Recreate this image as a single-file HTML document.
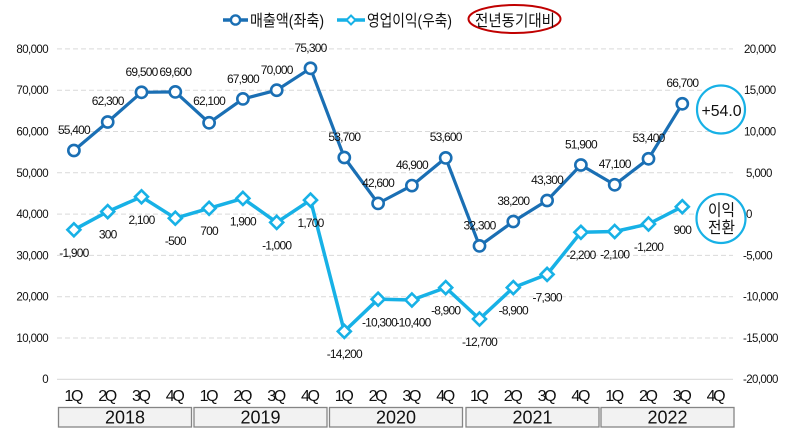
<!DOCTYPE html>
<html><head><meta charset="utf-8"><style>
html,body{margin:0;padding:0;background:#fff;}
svg{display:block;}
text{font-family:"Liberation Sans","Noto Sans CJK KR",sans-serif;fill:#111;}
.ax{font-size:11.5px;letter-spacing:-0.6px;fill:#222;}
.lb{font-size:12px;letter-spacing:-0.8px;text-anchor:middle;}
.q{font-size:16px;text-anchor:middle;}
.yr{font-size:18px;text-anchor:middle;}
</style></head><body>
<svg width="788" height="440" viewBox="0 0 788 440" xmlns="http://www.w3.org/2000/svg">
<rect width="788" height="440" fill="#fff"/>
<!-- gridlines -->
<g stroke="#d9d9d9" stroke-width="1" stroke-dasharray="5,3">
<line x1="57" x2="733" y1="48.9" y2="48.9"/>
<line x1="57" x2="733" y1="90.2" y2="90.2"/>
<line x1="57" x2="733" y1="131.5" y2="131.5"/>
<line x1="57" x2="733" y1="172.8" y2="172.8"/>
<line x1="57" x2="733" y1="214.1" y2="214.1"/>
<line x1="57" x2="733" y1="255.4" y2="255.4"/>
<line x1="57" x2="733" y1="296.7" y2="296.7"/>
<line x1="57" x2="733" y1="338.0" y2="338.0"/>
</g>
<line x1="57" x2="733" y1="379.3" y2="379.3" stroke="#d9d9d9" stroke-width="1.2"/>
<!-- left axis labels -->
<g class="ax" text-anchor="end">
<text x="48" y="53">80,000</text>
<text x="48" y="94">70,000</text>
<text x="48" y="135.5">60,000</text>
<text x="48" y="177">50,000</text>
<text x="48" y="218">40,000</text>
<text x="48" y="259.5">30,000</text>
<text x="48" y="300.5">20,000</text>
<text x="48" y="342">10,000</text>
<text x="48" y="383">0</text>
</g>
<!-- right axis labels -->
<g class="ax">
<text x="744" y="53">20,000</text>
<text x="744" y="94">15,000</text>
<text x="744" y="135.5">10,000</text>
<text x="746" y="177">5,000</text>
<text x="746" y="218">0</text>
<text x="743" y="259.5">-5,000</text>
<text x="743" y="300.5">-10,000</text>
<text x="743" y="342">-15,000</text>
<text x="743" y="383">-20,000</text>
</g>
<!-- profit series -->
<polyline fill="none" stroke="#17b1e6" stroke-width="3.5" stroke-linejoin="round" points="73.9,229.8 107.7,211.6 141.5,196.8 175.3,218.2 209.1,208.3 242.9,198.4 276.7,222.4 310.5,200.1 344.3,331.4 378.1,299.2 411.9,300.0 445.7,287.6 479.5,319.0 513.3,287.6 547.1,274.4 580.9,232.3 614.7,231.5 648.5,224.0 682.3,206.7"/>
<g fill="#fff" stroke="#17b1e6" stroke-width="2.6">
<path d="M73.9,223.3 L80.4,229.8 L73.9,236.3 L67.4,229.8 Z"/>
<path d="M107.7,205.1 L114.2,211.6 L107.7,218.1 L101.2,211.6 Z"/>
<path d="M141.5,190.3 L148,196.8 L141.5,203.3 L135,196.8 Z"/>
<path d="M175.3,211.7 L181.8,218.2 L175.3,224.7 L168.8,218.2 Z"/>
<path d="M209.1,201.8 L215.6,208.3 L209.1,214.8 L202.6,208.3 Z"/>
<path d="M242.9,191.9 L249.4,198.4 L242.9,204.9 L236.4,198.4 Z"/>
<path d="M276.7,215.9 L283.2,222.4 L276.7,228.9 L270.2,222.4 Z"/>
<path d="M310.5,193.6 L317,200.1 L310.5,206.6 L304,200.1 Z"/>
<path d="M344.3,324.9 L350.8,331.4 L344.3,337.9 L337.8,331.4 Z"/>
<path d="M378.1,292.7 L384.6,299.2 L378.1,305.7 L371.6,299.2 Z"/>
<path d="M411.9,293.5 L418.4,300 L411.9,306.5 L405.4,300 Z"/>
<path d="M445.7,281.1 L452.2,287.6 L445.7,294.1 L439.2,287.6 Z"/>
<path d="M479.5,312.5 L486,319 L479.5,325.5 L473,319 Z"/>
<path d="M513.3,281.1 L519.8,287.6 L513.3,294.1 L506.8,287.6 Z"/>
<path d="M547.1,267.9 L553.6,274.4 L547.1,280.9 L540.6,274.4 Z"/>
<path d="M580.9,225.8 L587.4,232.3 L580.9,238.8 L574.4,232.3 Z"/>
<path d="M614.7,225 L621.2,231.5 L614.7,238 L608.2,231.5 Z"/>
<path d="M648.5,217.5 L655,224 L648.5,230.5 L642,224 Z"/>
<path d="M682.3,200.2 L688.8,206.7 L682.3,213.2 L675.8,206.7 Z"/>
</g>
<!-- sales series -->
<polyline fill="none" stroke="#1a6fb4" stroke-width="3.2" stroke-linejoin="round" points="73.9,150.5 107.7,122.0 141.5,92.3 175.3,91.9 209.1,122.8 242.9,98.9 276.7,90.2 310.5,68.3 344.3,157.5 378.1,203.4 411.9,185.6 445.7,157.9 479.5,245.9 513.3,221.5 547.1,200.5 580.9,165.0 614.7,184.8 648.5,158.8 682.3,103.8"/>
<g fill="#fff" stroke="#1a6fb4" stroke-width="2.6">
<circle cx="73.9" cy="150.5" r="5.6"/>
<circle cx="107.7" cy="122.0" r="5.6"/>
<circle cx="141.5" cy="92.3" r="5.6"/>
<circle cx="175.3" cy="91.9" r="5.6"/>
<circle cx="209.1" cy="122.8" r="5.6"/>
<circle cx="242.9" cy="98.9" r="5.6"/>
<circle cx="276.7" cy="90.2" r="5.6"/>
<circle cx="310.5" cy="68.3" r="5.6"/>
<circle cx="344.3" cy="157.5" r="5.6"/>
<circle cx="378.1" cy="203.4" r="5.6"/>
<circle cx="411.9" cy="185.6" r="5.6"/>
<circle cx="445.7" cy="157.9" r="5.6"/>
<circle cx="479.5" cy="245.9" r="5.6"/>
<circle cx="513.3" cy="221.5" r="5.6"/>
<circle cx="547.1" cy="200.5" r="5.6"/>
<circle cx="580.9" cy="165.0" r="5.6"/>
<circle cx="614.7" cy="184.8" r="5.6"/>
<circle cx="648.5" cy="158.8" r="5.6"/>
<circle cx="682.3" cy="103.8" r="5.6"/>
</g>
<!-- sales labels -->
<g class="lb">
<text x="73.9" y="134">55,400</text>
<text x="107.7" y="105">62,300</text>
<text x="141.5" y="76">69,500</text>
<text x="175.3" y="76">69,600</text>
<text x="209.1" y="105">62,100</text>
<text x="242.9" y="83">67,900</text>
<text x="276.7" y="74">70,000</text>
<text x="310.5" y="52">75,300</text>
<text x="344.3" y="141">53,700</text>
<text x="378.1" y="187">42,600</text>
<text x="411.9" y="169">46,900</text>
<text x="445.7" y="141">53,600</text>
<text x="479.5" y="229.5">32,300</text>
<text x="513.3" y="205">38,200</text>
<text x="547.1" y="184">43,300</text>
<text x="580.9" y="148.5">51,900</text>
<text x="614.7" y="168">47,100</text>
<text x="648.5" y="142">53,400</text>
<text x="682.3" y="87">66,700</text>
</g>
<!-- profit labels -->
<g class="lb">
<text x="73.9" y="257">-1,900</text>
<text x="107.7" y="238.5">300</text>
<text x="141.5" y="224">2,100</text>
<text x="175.3" y="245">-500</text>
<text x="209.1" y="235">700</text>
<text x="242.9" y="225.5">1,900</text>
<text x="276.7" y="249.5">-1,000</text>
<text x="310.5" y="227">1,700</text>
<text x="344.3" y="358">-14,200</text>
<text x="379.5" y="326.5">-10,300</text>
<text x="413" y="326.5">-10,400</text>
<text x="445.7" y="314.5">-8,900</text>
<text x="479.5" y="346">-12,700</text>
<text x="513.3" y="314.5">-8,900</text>
<text x="547.1" y="301.5">-7,300</text>
<text x="580.9" y="259">-2,200</text>
<text x="614.7" y="258.5">-2,100</text>
<text x="648.5" y="251">-1,200</text>
<text x="682.3" y="234">900</text>
</g>
<!-- quarter labels -->
<g class="q">
<text x="73.9" y="401" textLength="19">1Q</text>
<text x="107.7" y="401" textLength="19">2Q</text>
<text x="141.5" y="401" textLength="19">3Q</text>
<text x="175.3" y="401" textLength="19">4Q</text>
<text x="209.1" y="401" textLength="19">1Q</text>
<text x="242.9" y="401" textLength="19">2Q</text>
<text x="276.7" y="401" textLength="19">3Q</text>
<text x="310.5" y="401" textLength="19">4Q</text>
<text x="344.3" y="401" textLength="19">1Q</text>
<text x="378.1" y="401" textLength="19">2Q</text>
<text x="411.9" y="401" textLength="19">3Q</text>
<text x="445.7" y="401" textLength="19">4Q</text>
<text x="479.5" y="401" textLength="19">1Q</text>
<text x="513.3" y="401" textLength="19">2Q</text>
<text x="547.1" y="401" textLength="19">3Q</text>
<text x="580.9" y="401" textLength="19">4Q</text>
<text x="614.7" y="401" textLength="19">1Q</text>
<text x="648.5" y="401" textLength="19">2Q</text>
<text x="682.3" y="401" textLength="19">3Q</text>
<text x="716.1" y="401" textLength="19">4Q</text>
</g>
<!-- year boxes -->
<g fill="#f2f2f2" stroke="#858585" stroke-width="1.3">
<rect x="58.5" y="407.5" width="133" height="19.5"/>
<rect x="194" y="407.5" width="133" height="19.5"/>
<rect x="329.5" y="407.5" width="133" height="19.5"/>
<rect x="466" y="407.5" width="133" height="19.5"/>
<rect x="601" y="407.5" width="133" height="19.5"/>
</g>
<g class="yr">
<text x="125" y="423.5">2018</text>
<text x="260.5" y="423.5">2019</text>
<text x="396" y="423.5">2020</text>
<text x="532.5" y="423.5">2021</text>
<text x="667.5" y="423.5">2022</text>
</g>
<!-- legend -->
<line x1="223" x2="248" y1="20" y2="20" stroke="#1a6fb4" stroke-width="3.5"/>
<circle cx="235.5" cy="20" r="4.6" fill="#fff" stroke="#1a6fb4" stroke-width="2.4"/>
<text x="250" y="26" font-size="16" textLength="74" lengthAdjust="spacingAndGlyphs">매출액(좌축)</text>
<line x1="337" x2="365" y1="20" y2="20" stroke="#17b1e6" stroke-width="3.5"/>
<path d="M351,15.5 L355.5,20 L351,24.5 L346.5,20 Z" fill="#fff" stroke="#17b1e6" stroke-width="2"/>
<text x="367" y="26" font-size="16" textLength="85" lengthAdjust="spacingAndGlyphs">영업이익(우축)</text>
<ellipse cx="514.5" cy="19" rx="46" ry="14" fill="none" stroke="#c00000" stroke-width="2"/>
<text x="475" y="26" font-size="16" textLength="80" lengthAdjust="spacingAndGlyphs">전년동기대비</text>
<!-- annotations -->
<circle cx="721" cy="109.5" r="24" fill="#fff" stroke="#17b1e6" stroke-width="2.2"/>
<text x="721.5" y="116" font-size="16" text-anchor="middle" textLength="40" lengthAdjust="spacingAndGlyphs">+54.0</text>
<circle cx="721" cy="218.5" r="24.5" fill="#fff" stroke="#17b1e6" stroke-width="2.2"/>
<text x="721.5" y="215.5" font-size="16" text-anchor="middle" textLength="27" lengthAdjust="spacingAndGlyphs">이익</text>
<text x="721.5" y="233" font-size="16" text-anchor="middle" textLength="27" lengthAdjust="spacingAndGlyphs">전환</text>
</svg>
</body></html>
